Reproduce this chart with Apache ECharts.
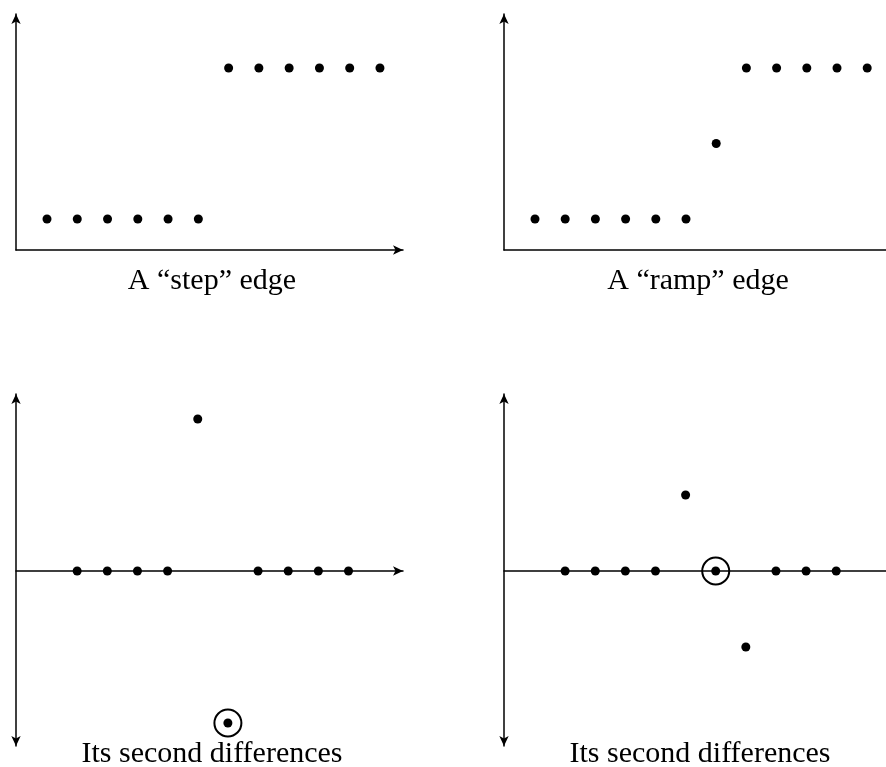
<!DOCTYPE html>
<html>
<head>
<meta charset="utf-8">
<script src="https://cdn.jsdelivr.net/npm/echarts@6/dist/echarts.min.js"></script>
<style>html,body{margin:0;padding:0;background:#fff}#c{width:886px;height:767px}</style>
</head>
<body>
<div id="c"></div>
<script>
// ---- data ----
const stepIdx = [0, 1, 2, 3, 4, 5, 6, 7, 8, 9, 10, 11];
const stepVals = [0, 0, 0, 0, 0, 0, 1, 1, 1, 1, 1, 1];
const rampIdx = [0, 1, 2, 3, 4, 5, 6, 7, 8, 9, 10, 11];
const rampVals = [0, 0, 0, 0, 0, 0, 0.5, 1, 1, 1, 1, 1];
const diffIdx = [1, 2, 3, 4, 5, 6, 7, 8, 9, 10];
const stepDiff = [0, 0, 0, 0, 1, -1, 0, 0, 0, 0];
const rampDiff = [0, 0, 0, 0, 0.5, 0, -0.5, 0, 0, 0];
const stepCircled = [[6, -1]];
const rampCircled = [[6, 0]];
const captions = ['A \u201cstep\u201d edge', 'A \u201cramp\u201d edge', 'Its second differences', 'Its second differences'];

// ---- layout ----
const ARW = [7, 10];
const FONT = 'Liberation Serif';
const panels = [
  {x0: 47, dx: 30.27, left: 16, right: 403, y0: 219, unit: 151, top: 14, bottom: 250, yArrows: ['none', 'arrow'], onZero: false},
  {x0: 535, dx: 30.2, left: 504, right: 900, y0: 219, unit: 151, top: 14, bottom: 250, yArrows: ['none', 'arrow'], onZero: false},
  {x0: 47, dx: 30.15, left: 16, right: 403, y0: 571, unit: 152, top: 394, bottom: 746, yArrows: ['arrow', 'arrow'], onZero: true},
  {x0: 535, dx: 30.12, left: 504, right: 900, y0: 571, unit: 152, top: 394, bottom: 746, yArrows: ['arrow', 'arrow'], onZero: true}
];

const grids = [], xAxes = [], yAxes = [];
panels.forEach((p, i) => {
  grids.push({left: p.left, top: p.top, width: p.right - p.left, height: p.bottom - p.top, outerBoundsMode: 'none', containLabel: false});
  xAxes.push({
    type: 'value', gridIndex: i,
    min: (p.left - p.x0) / p.dx, max: (p.right - p.x0) / p.dx,
    axisLine: {show: true, onZero: p.onZero, symbol: ['none', 'arrow'], symbolSize: ARW, lineStyle: {color: '#000', width: 1.5}},
    axisTick: {show: false}, axisLabel: {show: false}, splitLine: {show: false}
  });
  yAxes.push({
    type: 'value', gridIndex: i,
    min: (p.y0 - p.bottom) / p.unit, max: (p.y0 - p.top) / p.unit,
    axisLine: {show: true, onZero: false, symbol: p.yArrows, symbolSize: ARW, lineStyle: {color: '#000', width: 1.5}},
    axisTick: {show: false}, axisLabel: {show: false}, splitLine: {show: false}
  });
});

function pairs(xs, ys) { return xs.map((x, k) => [x, ys[k]]); }
function dots(i, data) {
  return {type: 'scatter', xAxisIndex: i, yAxisIndex: i, data: data, symbol: 'circle', symbolSize: 9,
    itemStyle: {color: '#000', opacity: 1}, z: 5, silent: true, animation: false};
}
function rings(i, data) {
  return {type: 'scatter', xAxisIndex: i, yAxisIndex: i, data: data, symbol: 'circle', symbolSize: 27,
    itemStyle: {color: 'rgba(0,0,0,0)', borderColor: '#000', borderWidth: 2, opacity: 1}, z: 4, silent: true, animation: false};
}

const series = [
  dots(0, pairs(stepIdx, stepVals)),
  dots(1, pairs(rampIdx, rampVals)),
  dots(2, pairs(diffIdx, stepDiff)),
  rings(2, stepCircled),
  dots(3, pairs(diffIdx, rampDiff)),
  rings(3, rampCircled)
];

const capPos = [[212, 266], [698, 266], [212, 739], [700, 739]];
const titles = captions.map((t, i) => ({
  text: t, left: capPos[i][0], top: capPos[i][1], textAlign: 'center', padding: 0,
  textStyle: {fontFamily: FONT, fontSize: 30, fontWeight: 'normal', color: '#000'}
}));

const chart = echarts.init(document.getElementById('c'), null, {renderer: 'canvas'});
chart.setOption({
  animation: false,
  backgroundColor: '#fff',
  title: titles,
  grid: grids, xAxis: xAxes, yAxis: yAxes, series: series
});
</script>
</body>
</html>
